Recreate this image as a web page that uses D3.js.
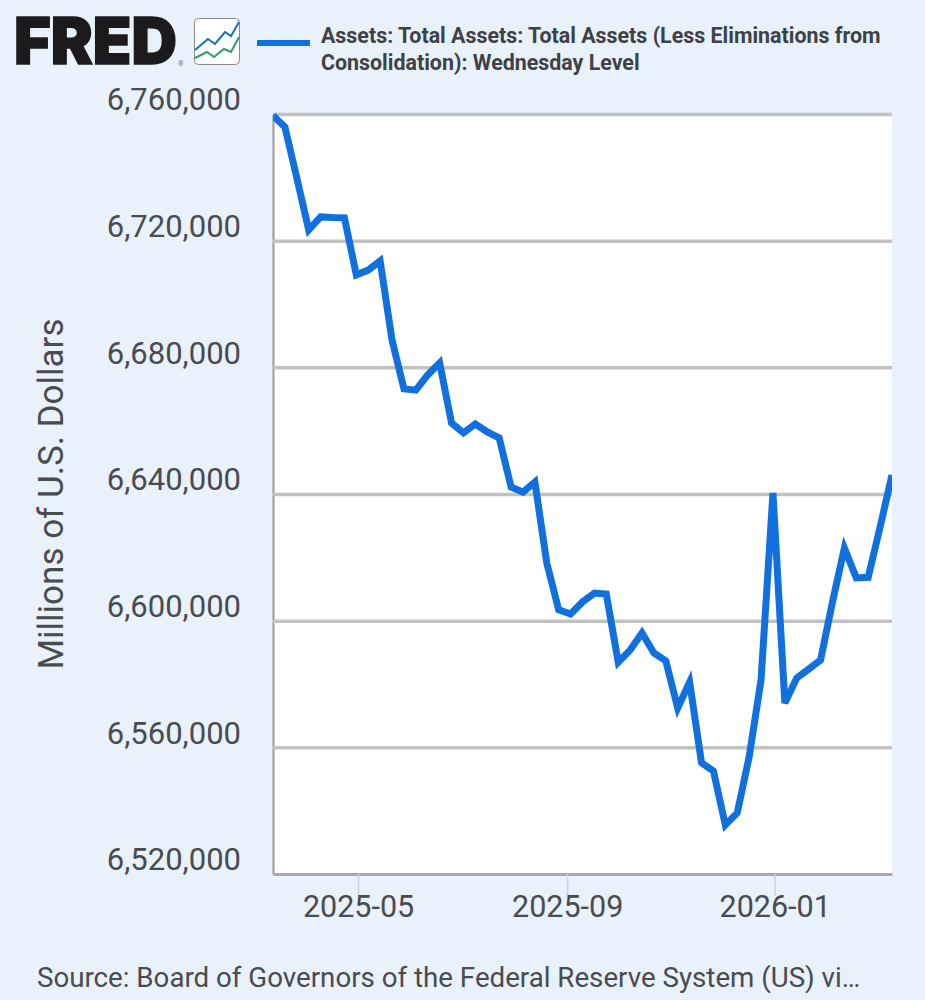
<!DOCTYPE html>
<html>
<head>
<meta charset="utf-8">
<script src="https://cdn.jsdelivr.net/npm/d3@7"></script>
<style>
  html, body { margin: 0; padding: 0; background: #e9f1fb; }
  text { font-family: Roboto, sans-serif; }
</style>
</head>
<body>
<script>
// weekly Wednesday dates
const dates = [
  "2025-03-12","2025-03-19","2025-03-26","2025-04-02","2025-04-09","2025-04-16","2025-04-23","2025-04-30",
  "2025-05-07","2025-05-14","2025-05-21","2025-05-28","2025-06-04","2025-06-11","2025-06-18","2025-06-25",
  "2025-07-02","2025-07-09","2025-07-16","2025-07-23","2025-07-30","2025-08-06","2025-08-13","2025-08-20",
  "2025-08-27","2025-09-03","2025-09-10","2025-09-17","2025-09-24","2025-10-01","2025-10-08","2025-10-15",
  "2025-10-22","2025-10-29","2025-11-05","2025-11-12","2025-11-19","2025-11-26","2025-12-03","2025-12-10",
  "2025-12-17","2025-12-24","2025-12-31","2026-01-07","2026-01-14","2026-01-21","2026-01-28","2026-02-04",
  "2026-02-11","2026-02-18","2026-02-25","2026-03-04","2026-03-11"
];
const assets = [
  6759500,6755900,6739800,6723400,6727500,6727300,6727200,6709200,
  6710700,6713600,6688600,6673200,6672800,6677600,6681400,6662400,
  6659300,6662100,6659600,6657700,6642200,6640600,6643800,6618200,
  6603400,6602100,6605900,6608700,6608400,6586900,6590700,6596100,
  6589800,6587300,6572400,6580600,6555100,6552500,6535500,6539300,
  6557000,6581300,6640300,6574000,6581900,6584700,6587600,6605900,
  6622900,6613500,6613700,6629600,6646000
];
const yTicks = [6520000,6560000,6600000,6640000,6680000,6720000,6760000];
const xTicks = ["2025-05-01","2025-09-01","2026-01-01"];
const legendLines = [
  "Assets: Total Assets: Total Assets (Less Eliminations from",
  "Consolidation): Wednesday Level"
];
const yTitle = "Millions of U.S. Dollars";
const sourceText = "Source: Board of Governors of the Federal Reserve System (US) vi\u2026";

const blue = "#1070dd", textColor = "#484b50";
const plotLeft = 273, plotRight = 892, plotTop = 114, plotBottom = 874;
const parse = d3.utcParse("%Y-%m-%d");

const svg = d3.select("body").append("svg")
  .attr("width", 925).attr("height", 1000)
  .style("display", "block");

const x = d3.scaleUtc()
  .domain([parse(dates[0]), parse(dates[dates.length - 1])])
  .range([plotLeft, plotRight]);
const y = d3.scaleLinear()
  .domain([6520000, 6760000])
  .range([plotBottom, plotTop]);

// plot background
svg.append("rect")
  .attr("x", plotLeft).attr("y", plotTop)
  .attr("width", plotRight - plotLeft).attr("height", plotBottom - plotTop)
  .attr("fill", "#fff");

svg.append("clipPath").attr("id", "plot")
  .append("rect")
  .attr("x", plotLeft).attr("y", plotTop - 2)
  .attr("width", plotRight - plotLeft).attr("height", plotBottom - plotTop + 2);

// y axis and grid
const yAxis = svg.append("g")
  .attr("transform", `translate(${plotLeft},0)`)
  .call(d3.axisLeft(y).tickValues(yTicks).tickFormat(d3.format(",")).tickSize(0).tickPadding(32));
yAxis.select(".domain").attr("stroke", "#9a9a9a").attr("stroke-width", 2);
yAxis.selectAll("text")
  .attr("dy", "0.32em")
  .attr("y", -14)
  .attr("fill", textColor)
  .style("font-size", "31px");
yAxis.selectAll(".tick").filter(d => d > 6520000).append("line")
  .attr("x1", 0).attr("x2", plotRight - plotLeft)
  .attr("stroke", "#c2c2c2").attr("stroke-width", 3.5);

// x axis
const xAxis = svg.append("g")
  .attr("transform", `translate(0,${plotBottom})`)
  .call(d3.axisBottom(x).tickValues(xTicks.map(parse)).tickFormat(d3.utcFormat("%Y-%m")).tickSizeInner(22).tickSizeOuter(0).tickPadding(0));
xAxis.select(".domain").attr("stroke", "#a8a8a8").attr("stroke-width", 3);
xAxis.selectAll(".tick line").attr("stroke", "#ccd3dc").attr("stroke-width", 1.5);
xAxis.selectAll("text")
  .attr("y", 43).attr("dy", 0)
  .attr("fill", textColor)
  .style("font-size", "30.5px");

// series
const line = d3.line()
  .x((d, i) => x(parse(dates[i])))
  .y(d => y(d));
svg.append("path")
  .datum(assets)
  .attr("clip-path", "url(#plot)")
  .attr("d", line)
  .attr("fill", "none")
  .attr("stroke", blue)
  .attr("stroke-width", 7)
  .attr("stroke-linejoin", "miter");

// y title
svg.append("text")
  .attr("transform", "translate(63,494) rotate(-90)")
  .attr("text-anchor", "middle")
  .attr("fill", textColor)
  .style("font-size", "35px")
  .text(yTitle);

// legend
svg.append("line")
  .attr("x1", 257).attr("x2", 310)
  .attr("y1", 43).attr("y2", 43)
  .attr("stroke", blue).attr("stroke-width", 6);
svg.selectAll(".legend").data(legendLines).join("text")
  .attr("class", "legend")
  .attr("x", 321)
  .attr("y", (d, i) => 43 + i * 27)
  .attr("fill", "#3e4146")
  .style("font-size", "21.4px")
  .style("font-weight", 700)
  .text(d => d);

// source
svg.append("text")
  .attr("x", 37).attr("y", 987)
  .attr("fill", textColor)
  .style("font-size", "27.7px")
  .text(sourceText);

// FRED logo
const logo = svg.append("g");
logo.append("text")
  .attr("x", 14).attr("y", 64)
  .attr("textLength", 163).attr("lengthAdjust", "spacingAndGlyphs")
  .attr("fill", "#1b1b1d")
  .attr("stroke", "#1b1b1d").attr("stroke-width", 1.5)
  .style("font-family", "Inter, 'Liberation Sans', sans-serif")
  .style("font-size", "64px")
  .style("font-weight", 900)
  .text("FRED");
logo.append("text")
  .attr("x", 178).attr("y", 66)
  .attr("fill", "#777")
  .style("font-size", "7px")
  .text("\u00ae");
logo.append("rect")
  .attr("x", 194.5).attr("y", 18.5)
  .attr("width", 45).attr("height", 46).attr("rx", 4)
  .attr("fill", "#fff").attr("stroke", "#8a8a8a");
logo.append("path")
  .attr("d", "M195,50 L208,39 L215,44 L225,32 L231,36 L239,22")
  .attr("fill", "none").attr("stroke", "#1a6fc0").attr("stroke-width", 2);
logo.append("path")
  .attr("d", "M195,58 L207,52 L214,57 L224,49 L231,52 L239,37")
  .attr("fill", "none").attr("stroke", "#2f9a7c").attr("stroke-width", 2);
</script>
</body>
</html>
